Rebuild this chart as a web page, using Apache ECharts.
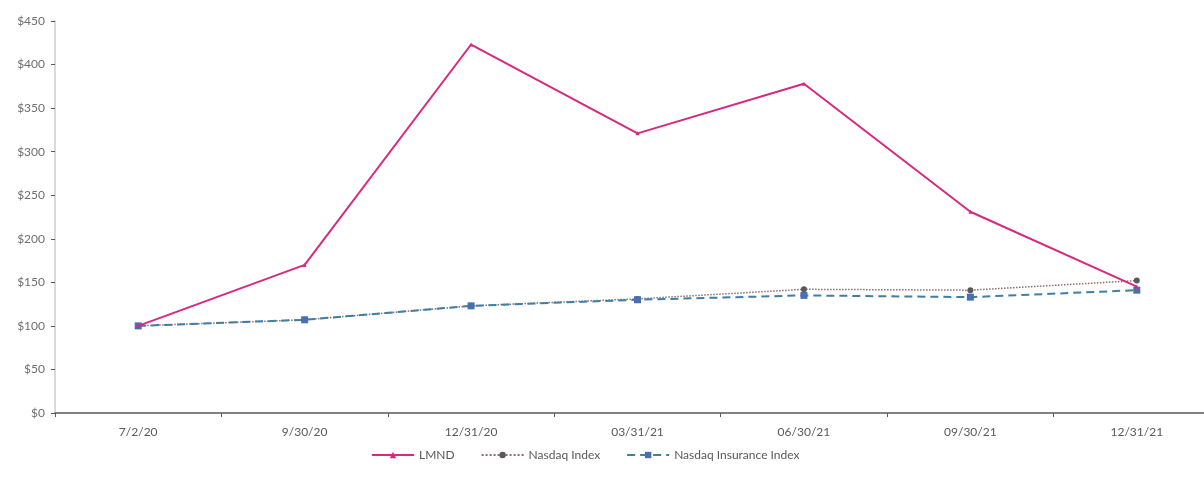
<!DOCTYPE html>
<html>
<head>
	<meta http-equiv="Content-Type" content="text/html;charset=utf-8">
	<title>LMND vs Nasdaq</title>
	<style>
	  html, body{
		margin: 0;
		padding: 0;
		background: #fff;
		overflow: hidden;
	  }
	  /* 原图右侧被裁掉一部分，画布比窗口略宽 */
	  #chart{
		width: 1220px;
		height: 482px;
	  }
	</style>
</head>
<body>
<div id="chart"></div>

<script src="https://cdn.jsdelivr.net/npm/echarts@6/dist/echarts.min.js"></script>
<script>
	// 日期
	var dates = ['7/2/20', '9/30/20', '12/31/20', '03/31/21', '06/30/21', '09/30/21', '12/31/21'];

	// 各系列数值
	var lmnd = [100, 170, 423, 321, 378, 231, 145];
	var nasdaq = [100, 107, 123, 131, 142, 141, 152];
	var nasdaqInsurance = [100, 107, 123, 130, 135, 133, 141];

	var yTicks = [0, 50, 100, 150, 200, 250, 300, 350, 400, 450];

	var font = 'Lato, "DejaVu Sans", sans-serif';

	var option = {
		animation: false,
		textStyle: { fontFamily: font },
		grid: {
			left: 55,
			right: 0,
			top: 21,
			bottom: 69
		},
		legend: {
			bottom: 16,
			left: 366,
			itemWidth: 42,
			itemHeight: 8,
			itemGap: 26,
			textStyle: { color: '#595959', fontSize: 12, fontFamily: font },
			data: ['LMND', 'Nasdaq Index', 'Nasdaq Insurance Index']
		},
		xAxis: {
			type: 'category',
			data: dates,
			boundaryGap: true,
			axisLine: { lineStyle: { color: '#595959', width: 1.5 } },
			axisTick: { show: true, length: 4, lineStyle: { color: '#595959' } },
			axisLabel: { color: '#595959', fontSize: 12, margin: 13 }
		},
		yAxis: {
			type: 'value',
			min: yTicks[0],
			max: yTicks[yTicks.length - 1],
			interval: 50,
			splitLine: { show: false },
			axisLine: { show: true, lineStyle: { color: '#d9d9d9', width: 2 } },
			axisTick: { show: true, length: 4, lineStyle: { color: '#595959' } },
			axisLabel: {
				color: '#6e6e6e',
				fontSize: 12,
				margin: 10,
				formatter: function(v){ return '$' + v; }
			}
		},
		series: [
			{
				name: 'LMND',
				type: 'line',
				data: lmnd,
				symbol: 'triangle',
				symbolSize: 4,
				itemStyle: { color: '#d8287f' },
				lineStyle: { color: '#d8287f', width: 2 },
				z: 3
			},
			{
				name: 'Nasdaq Index',
				type: 'line',
				data: nasdaq,
				symbol: 'circle',
				symbolSize: 6,
				itemStyle: { color: '#595959' },
				lineStyle: { color: '#8c6d6d', width: 1.5, type: 'dotted' },
				z: 2
			},
			{
				name: 'Nasdaq Insurance Index',
				type: 'line',
				data: nasdaqInsurance,
				symbol: 'rect',
				symbolSize: 7,
				itemStyle: { color: '#4a6fb0' },
				lineStyle: { color: '#3d7fa6', width: 2, type: [8, 5] },
				z: 2
			}
		]
	};

	var myChart = echarts.init(document.getElementById('chart'));
	myChart.setOption(option);
</script>
</body>
</html>
